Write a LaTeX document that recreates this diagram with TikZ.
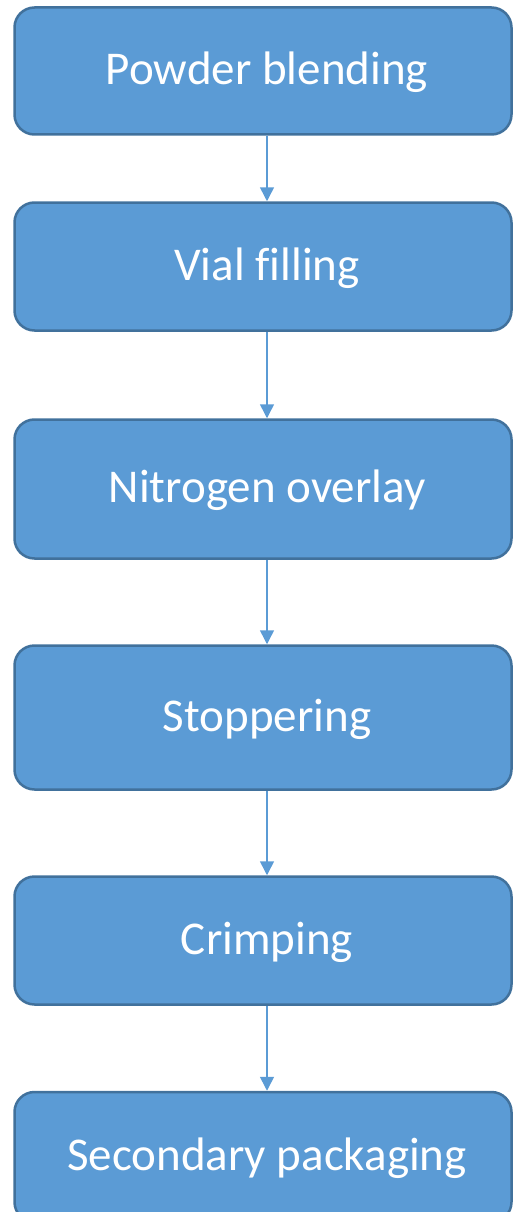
\documentclass[tikz,border=0pt]{standalone}
\usepackage{fontspec}
\setmainfont{Carlito}[Ligatures=NoCommon]
\usetikzlibrary{arrows.meta}
\definecolor{stagefill}{HTML}{5B9BD5}
\definecolor{stageline}{HTML}{41719C}
\begin{document}
\begin{tikzpicture}[x=1pt,y=-1pt,
    stage/.style={draw=stageline,fill=stagefill,line width=2.5pt,rounded corners=20pt,
        minimum width=497pt,inner sep=0pt,text=white,font=\fontsize{47}{56}\selectfont,
        text height=38pt,text depth=11pt,execute at begin node=\hspace*{8pt}},
    link/.style={draw=stagefill,line width=1.5pt,-{Triangle[width=14pt,length=14pt]}}]
    \useasboundingbox (0,0) rectangle (514,1212);

    \node[stage,minimum height=127pt] (s1) at (263,71) {Powder blending};
    \node[stage,minimum height=128pt] (s2) at (263,266.5) {Vial filling};
    \node[stage,minimum height=139pt] (s3) at (263,489) {Nitrogen overlay};
    \node[stage,minimum height=144pt] (s4) at (263,717.5) {Stoppering};
    \node[stage,minimum height=128pt] (s5) at (263,940.5) {Crimping};
    \node[stage,minimum height=130pt] (s6) at (263,1157) {Secondary packaging};

    \foreach \i/\j in {1/2,2/3,3/4,4/5,5/6} {
        \draw[link] ([xshift=4pt]s\i.south) -- ([xshift=4pt]s\j.north);
    }
\end{tikzpicture}
\end{document}
